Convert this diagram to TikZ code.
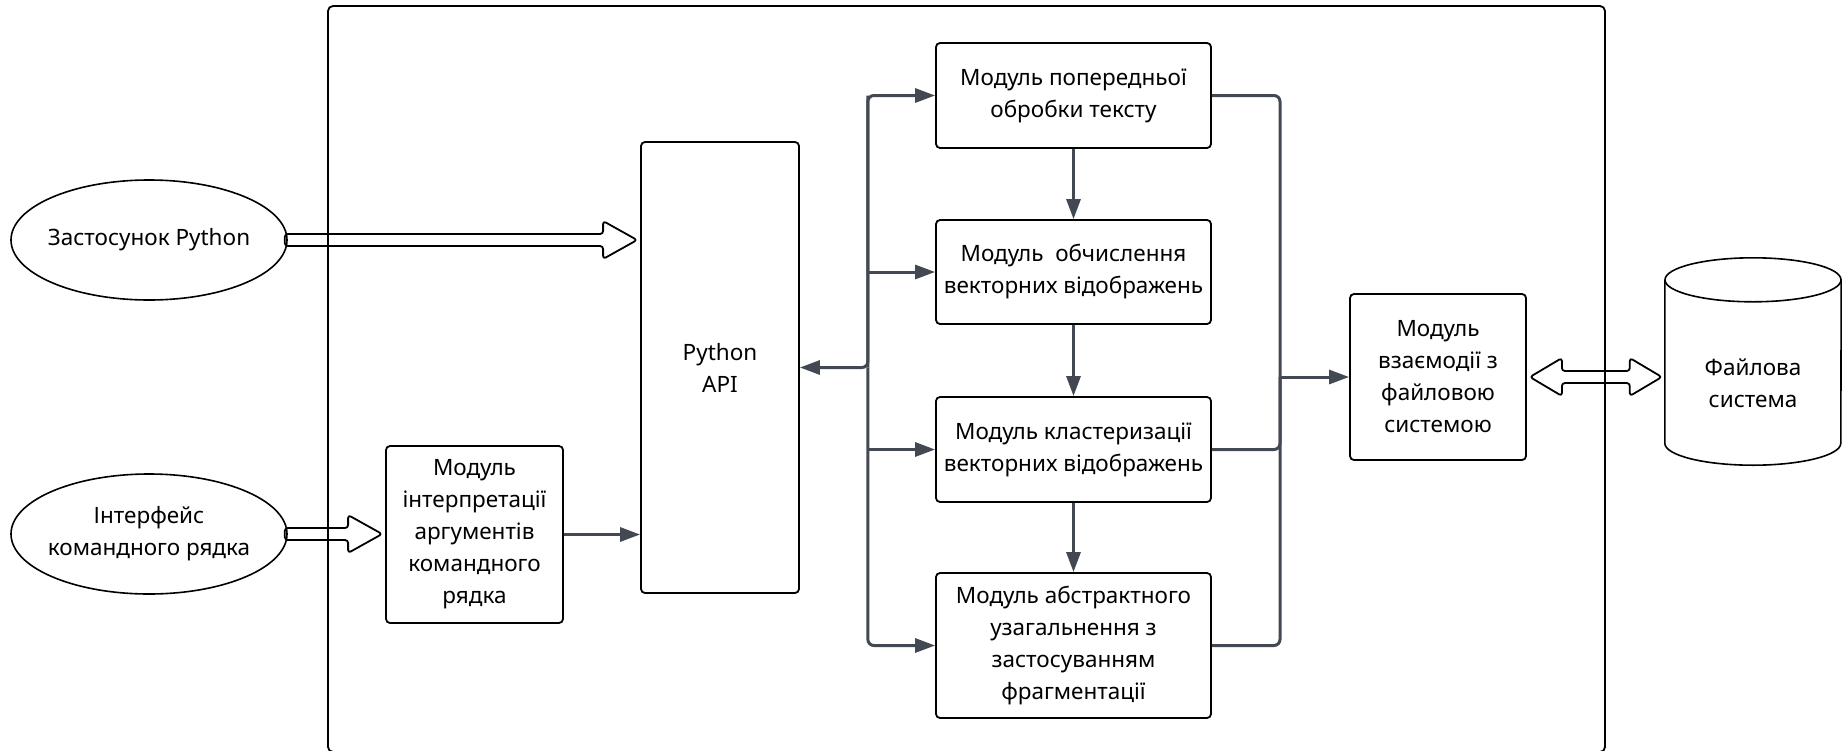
\documentclass[tikz,border=0pt]{standalone}
\usepackage{fontspec}
\setmainfont{Noto Sans}
\usetikzlibrary{shapes.geometric,arrows.meta,calc}
\definecolor{wire}{HTML}{424953}
\begin{document}
\begin{tikzpicture}[x=1pt,y=-1pt,
  every node/.style={font=\fontsize{22.5}{32}\selectfont, align=center, inner sep=0pt},
  box/.style={draw=black, line width=1.8pt, rounded corners=4pt},
  oval/.style={ellipse, draw=black, line width=1.6pt},
  conn/.style={draw=wire, line width=3pt},
  tip/.style={-{Triangle[length=20pt,width=14pt]}},
  hollow/.style={draw=black, line width=1.8pt, rounded corners=3pt, line join=round},
]
\useasboundingbox (0,0) rectangle (1842,750);

% system boundary
\draw[line width=1.8pt, rounded corners=5pt] (328,6) rectangle (1605,752);

% external actors
\node[oval, minimum width=276, minimum height=120] (e1) at (149,240) {};
\node at (e1) (e1t) {Застосунок Python};
\node[oval, minimum width=276, minimum height=120] (e2) at (149,534) {};
\node at (e2) (e2t) {Інтерфейс\\командного рядка};

% modules
\node[box, minimum width=177, minimum height=177] (cli) at (474.5,534.5)
  {Модуль\\інтерпретації\\аргументів\\командного\\рядка};
\node[box, minimum width=158, minimum height=451] (api) at (720,367.5) {Python\\API};
\node[box, minimum width=275, minimum height=105] (b1) at (1073.5,95.5)
  {Модуль попередньої\\обробки тексту};
\node[box, minimum width=275, minimum height=104] (b2) at (1073.5,272)
  {Модуль~ обчислення\\векторних відображень};
\node[box, minimum width=275, minimum height=105] (b3) at (1073.5,449.5)
  {Модуль кластеризації\\векторних відображень};
\node[box, minimum width=275, minimum height=145] (b4) at (1073.5,645.5)
  {Модуль абстрактного\\узагальнення з\\застосуванням\\фрагментації};
\node[box, minimum width=176, minimum height=166] (fsm) at (1438,377)
  {Модуль\\взаємодії з\\файловою\\системою};

% file system storage
\node[minimum width=176, minimum height=207] (fs) at (1753,361.5) {};
\node at (1753,383) (fst) {Файлова\\система};
\draw[line width=1.6pt]
  ($(fs.north west)+(0,22)$) -- ($(fs.south west)+(0,-22)$)
  arc[start angle=180, end angle=360, x radius=88, y radius=-22]
  -- ($(fs.north east)+(0,22)$);
\draw[line width=1.6pt] ($(fs.north)+(0,22)$) ellipse[x radius=88, y radius=22];

% distribution bus on the left
\coordinate (jl) at ($(api.east)+(68,0)$);
\draw[conn,tip,rounded corners=6pt] (jl |- b1.west) -- (jl) -- (api.east);
\draw[conn,tip,rounded corners=6pt] (jl) |- (b1.west);
\draw[conn,tip,rounded corners=6pt] (jl) |- (b4.west);
\draw[conn,tip] (jl |- b2.west) -- (b2.west);
\draw[conn,tip] (jl |- b3.west) -- (b3.west);

% processing chain
\draw[conn,tip] (b1.south) -- (b2.north);
\draw[conn,tip] (b2.south) -- (b3.north);
\draw[conn,tip] (b3.south) -- (b4.north);

% collecting bus on the right
\coordinate (jr) at (fsm.west -| 1280,0);
\draw[conn,rounded corners=6pt] (b1.east) -| (jr);
\draw[conn,rounded corners=6pt] (b3.east) -| (jr);
\draw[conn,rounded corners=6pt] (b4.east) -| (jr);
\draw[conn,tip] (jr) -- (fsm.west);

% command line module to API
\draw[conn,tip] (cli.east) -- (cli.east -| api.west);

% wide hollow arrows
\coordinate (a1s) at ($(e1.east)+(-3,0)$);
\coordinate (a1t) at ($(api.west |- e1.east)+(-3,0)$);
\draw[hollow] ($(a1s)+(0,-6)$) -- ($(a1t)+(-34,-6)$) -- ($(a1t)+(-34,-19)$)
  -- (a1t) -- ($(a1t)+(-34,19)$) -- ($(a1t)+(-34,6)$) -- ($(a1s)+(0,6)$) -- cycle;

\coordinate (a2s) at ($(e2.east)+(-3,0)$);
\coordinate (a2t) at ($(cli.west |- e2.east)+(-3,0)$);
\draw[hollow] ($(a2s)+(0,-6)$) -- ($(a2t)+(-34,-6)$) -- ($(a2t)+(-34,-19)$)
  -- (a2t) -- ($(a2t)+(-34,19)$) -- ($(a2t)+(-34,6)$) -- ($(a2s)+(0,6)$) -- cycle;

\coordinate (a3s) at ($(fsm.east)+(3,0)$);
\coordinate (a3t) at ($(fs.west |- fsm.east)+(-3,0)$);
\draw[hollow] (a3s) -- ($(a3s)+(32,-19)$) -- ($(a3s)+(32,-6)$) -- ($(a3t)+(-32,-6)$)
  -- ($(a3t)+(-32,-19)$) -- (a3t) -- ($(a3t)+(-32,19)$) -- ($(a3t)+(-32,6)$)
  -- ($(a3s)+(32,6)$) -- ($(a3s)+(32,19)$) -- cycle;
\end{tikzpicture}
\end{document}
